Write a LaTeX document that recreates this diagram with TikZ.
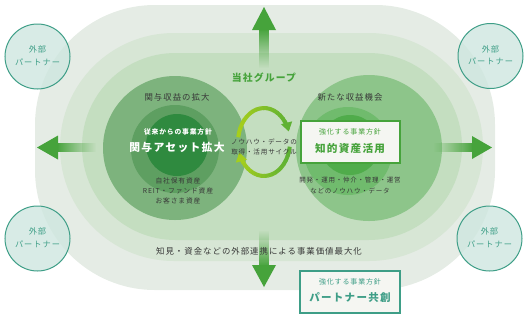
\documentclass[tikz,border=0pt]{standalone}
\usepackage{fontspec}
\setmainfont{Noto Sans CJK JP}[LetterSpace=12]
\usetikzlibrary{arrows.meta,fadings}
\definecolor{layA}{HTML}{E5ECE5}
\definecolor{layB}{HTML}{D7E6D5}
\definecolor{layC}{HTML}{C4DEC0}
\definecolor{lcA}{HTML}{7DB37D}
\definecolor{lcB}{HTML}{5E9F61}
\definecolor{lcC}{HTML}{2F8A3F}
\definecolor{rcA}{HTML}{8DC58A}
\definecolor{rcB}{HTML}{70BB6D}
\definecolor{rcC}{HTML}{50AC4B}
\definecolor{arrg}{HTML}{46A33B}
\definecolor{tealc}{HTML}{3E9E87}
\definecolor{tealfill}{HTML}{CFE7E0}
\definecolor{txtc}{HTML}{383838}
\definecolor{limeA}{HTML}{A8CF1C}
\definecolor{limeB}{HTML}{5BB035}
\definecolor{boxfill}{HTML}{F5F6F2}
\tikzfading[name=fadetop, top color=transparent!0, bottom color=transparent!100]
\tikzfading[name=fadebot, top color=transparent!100, bottom color=transparent!0]
\tikzfading[name=fadeleft, left color=transparent!0, right color=transparent!100]
\tikzfading[name=faderight, left color=transparent!100, right color=transparent!0]
\newcommand\fsz[1]{\fontsize{#1pt}{#1pt}\selectfont}
\begin{document}
\begin{tikzpicture}[x=1pt,y=-1pt,
  txt/.style={text=txtc, inner sep=0pt, anchor=center},
  wtxt/.style={text=white, inner sep=0pt, anchor=center},
  gtxt/.style={text=arrg, inner sep=0pt, anchor=center},
  ttxt/.style={text=tealc, inner sep=0pt, anchor=center},
  partner/.style={circle, minimum size=65pt, inner sep=0pt, draw=tealc, line width=1pt, fill=tealfill, fill opacity=0.82},
  cyc/.style={line width=4pt}
]
\useasboundingbox (0,0) rectangle (527,317);
% layers
\fill[layA, rounded corners=120pt] (35,5) rectangle (495,290);
\fill[layB, rounded corners=114pt] (60,33) rectangle (483,261);
\fill[layC, rounded corners=93.5pt] (82,53) rectangle (462,240);
% left circles
\fill[lcA] (175,148) circle[radius=72];
\fill[lcB] (175,149) circle[radius=44];
\fill[lcC] (177,145) circle[radius=31];
% right circles
\fill[rcA] (369,148) circle[radius=73];
\fill[rcB] (348,151) circle[radius=44];
\fill[rcC] (350,145) circle[radius=30];
% big arrows
\fill[arrg, path fading=fadetop] (259,29) rectangle (269,68);
\fill[arrg] (264,7) -- (276,30) -- (252,30) -- cycle;
\fill[arrg, path fading=fadebot] (259,230) rectangle (269,266);
\fill[arrg] (252,265) -- (276,265) -- (264,287) -- cycle;
\fill[arrg, path fading=fadeleft] (57,143) rectangle (96,152);
\fill[arrg] (37,147.5) -- (58,135.5) -- (58,159.5) -- cycle;
\fill[arrg, path fading=faderight] (433,143) rectangle (473,152);
\fill[arrg] (472,136) -- (472,159) -- (492,147.5) -- cycle;
% cycle arrows
\def\ccx{264}\def\ccy{142}
\foreach \a in {188,196,...,316} {
  \pgfmathsetmacro\p{(1-cos(\a+4))*50}
  \draw[cyc, color=limeA!\p!limeB] (\ccx,\ccy) ++(\a:26 and 34) arc[start angle=\a, end angle=\a+9, x radius=26, y radius=34];
}
\pgfmathsetmacro\p{(1-cos(335))*50}
\draw[cyc, color=limeA!\p!limeB, -{Triangle[length=9pt,width=11pt]}] (\ccx,\ccy) ++(322:26 and 34) arc[start angle=322, end angle=342, x radius=26, y radius=34];
\foreach \a in {8,16,...,136} {
  \pgfmathsetmacro\p{(1-cos(\a+4))*50}
  \draw[cyc, color=limeA!\p!limeB] (\ccx,\ccy) ++(\a:26 and 34) arc[start angle=\a, end angle=\a+9, x radius=26, y radius=34];
}
\pgfmathsetmacro\p{(1-cos(155))*50}
\draw[cyc, color=limeA!\p!limeB, -{Triangle[length=9pt,width=11pt]}] (\ccx,\ccy) ++(142:26 and 34) arc[start angle=142, end angle=162, x radius=26, y radius=34];
% texts
\node[gtxt, font=\fsz{9.8}\bfseries] (grp) at (264,78) {当社グループ};
\node[txt, font=\fsz{8.4}] (lt) at (177,97) {関与収益の拡大};
\node[txt, font=\fsz{8.4}] (rt) at (350,97) {新たな収益機会};
\node[wtxt, font=\fsz{6.8}\bfseries] (lp) at (178,132) {従来からの事業方針};
\node[wtxt, font=\fsz{10.8}\bfseries] (lm) at (177,147) {関与アセット拡大};
\node[txt, font=\fsz{6.8}] (la1) at (178,181) {自社保有資産};
\node[txt, font=\fsz{6.8}] (la2) at (178,191) {REIT・ファンド資産};
\node[txt, font=\fsz{6.8}] (la3) at (178,201) {お客さま資産};
\node[txt, font=\fsz{6.6}] (c1) at (264,142) {ノウハウ・データの};
\node[txt, font=\fsz{6.6}] (c2) at (264,152) {取得・活用サイクル};
% box 1
\node[draw=arrg, line width=1.2pt, fill=boxfill, minimum width=99pt, minimum height=42pt, inner sep=0pt] (box1) at (350.5,142) {};
\node[gtxt, font=\fsz{7}] (b1a) at (350,132) {強化する事業方針};
\node[gtxt, font=\fsz{10.6}\bfseries] (b1b) at (350,148) {知的資産活用};
\node[txt, font=\fsz{6.5}] (ra1) at (350,180) {開発・運用・仲介・管理・運営};
\node[txt, font=\fsz{6.5}] (ra2) at (350,191) {などのノウハウ・データ};
\node[txt, font=\fsz{8.4}] (bt) at (259,251) {知見・資金などの外部連携による事業価値最大化};
% box 2
\node[draw=tealc, line width=1.2pt, fill=boxfill, minimum width=100pt, minimum height=42pt, inner sep=0pt] (box2) at (350,292) {};
\node[ttxt, font=\fsz{7}] (b2a) at (350,282) {強化する事業方針};
\node[ttxt, font=\fsz{10.5}\bfseries] (b2b) at (350,297) {パートナー共創};
% partners
\foreach \n/\cx/\cy in {pa/37.5/56.5, pb/490.5/56, pc/37.5/238.5, pd/489.5/238.5} {
  \node[partner] (\n) at (\cx,\cy) {};
  \node[ttxt, font=\fsz{8.2}] (\n1) at (\cx,\cy-7) {外部};
  \node[ttxt, font=\fsz{8.2}] (\n2) at (\cx,\cy+5.5) {パートナー};
}
\end{tikzpicture}
\end{document}
